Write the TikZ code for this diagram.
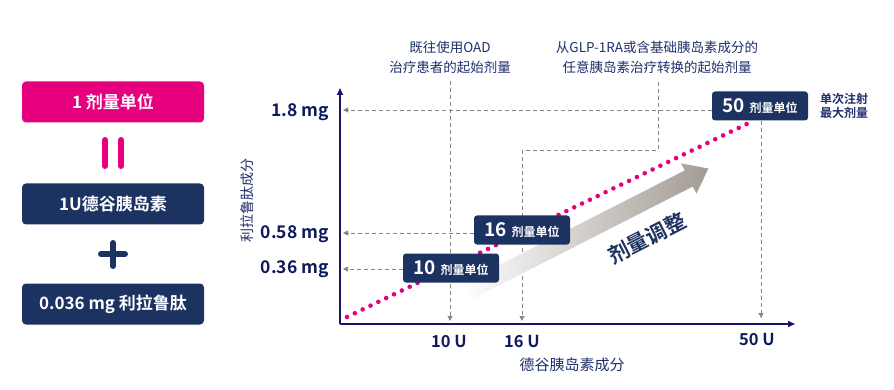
\documentclass[tikz,border=0pt]{standalone}
\usepackage{fontspec}
\setmainfont{Noto Sans CJK SC}[BoldFont={Noto Sans CJK SC Bold}]
\usetikzlibrary{arrows.meta}
\definecolor{pinkc}{HTML}{E6007E}
\definecolor{navybox}{HTML}{1C3260}
\definecolor{axisnavy}{HTML}{15166B}
\definecolor{labnavy}{HTML}{0F1A5E}
\definecolor{txtnavy}{HTML}{1F2F6B}
\definecolor{dashgray}{HTML}{8E847C}
\definecolor{arrgray}{HTML}{A39B94}
\tikzset{
  leftbox/.style={rounded corners=4pt, minimum width=182pt, minimum height=41pt, text=white, font=\bfseries\fontsize{17}{20}\selectfont, inner sep=0pt},
  dosebox/.style={fill=navybox, rounded corners=3pt, minimum width=96pt, minimum height=29pt, text=white, inner sep=0pt},
  axisline/.style={draw=axisnavy, line width=1.6pt, -{Triangle[length=7pt,width=6pt]}},
  dashl/.style={draw=dashgray, line width=0.9pt, dash pattern=on 4pt off 3pt, -{Triangle[length=5pt,width=5pt]}},
  dashn/.style={draw=dashgray, line width=0.9pt, dash pattern=on 4pt off 3pt},
  ylab/.style={anchor=east, text=labnavy, font=\bfseries\fontsize{17.5}{20}\selectfont, inner sep=0pt},
  xlab/.style={text=labnavy, font=\bfseries\fontsize{16.5}{19}\selectfont, inner sep=0pt},
  toptext/.style={text=txtnavy, font=\fontsize{13.5}{20}\selectfont, align=center, inner sep=0pt},
}
\newcommand{\dosetext}[1]{{\bfseries\fontsize{19}{20}\selectfont #1}\hspace{5pt}{\bfseries\fontsize{12}{14}\selectfont 剂量单位}}
\begin{document}
\begin{tikzpicture}[x=1pt,y=-1pt]
\useasboundingbox (0,0) rectangle (894,390);
% left column
\node[leftbox, fill=pinkc] (u1) at (113,102) {1 剂量单位};
\draw[pinkc, line width=6pt, line cap=round] (105,140) -- (105,166) (121,140) -- (121,166);
\node[leftbox, fill=navybox] (deg) at (113,204) {1U德谷胰岛素};
\draw[navybox, line width=6pt, line cap=round] (101,254) -- (125,254) (113,243) -- (113,266);
\node[leftbox, fill=navybox] (lira) at (113,304) {0.036 mg 利拉鲁肽};
% axes
\coordinate (O) at (340,324);
\coordinate (ytop) at (340,88);
\coordinate (xend) at (795,324);
\draw[axisline] (O) -- (ytop);
\draw[axisline] (O) -- (xend);
% axis labels
\node[ylab] (l18) at (329,112) {1.8 mg};
\node[ylab] (l58) at (329,234) {0.58 mg};
\node[ylab] (l36) at (329,269) {0.36 mg};
\node[xlab] (x10) at (449,342) {10 U};
\node[xlab] (x16) at (522,342) {16 U};
\node[xlab] (x50) at (757,340) {50 U};
\node[text=txtnavy, font=\fontsize{15}{18}\selectfont, inner sep=0pt] (xt) at (572,365) {德谷胰岛素成分};
\node[text=txtnavy, font=\fontsize{14}{16}\selectfont, inner sep=0pt, rotate=90] (yt) at (247,200) {利拉鲁肽成分};
% top texts
\node[toptext] (t1) at (450,57) {既往使用OAD\\治疗患者的起始剂量};
\node[toptext] (t2) at (657,57) {从GLP-1RA或含基础胰岛素成分的\\任意胰岛素治疗转换的起始剂量};
\node[text=txtnavy, font=\bfseries\fontsize{12}{14}\selectfont, align=left, inner sep=0pt] (maxd) at (844,106) {单次注射\\最大剂量};
% dashed guides
\coordinate (a18s) at (712,110); \coordinate (a18e) at (343,110);
\coordinate (a10s) at (450,81);  \coordinate (a10e) at (450,321);
\coordinate (a16s) at (658,82);  \coordinate (a16m) at (658,150); \coordinate (a16n) at (522,150); \coordinate (a16e) at (522,321);
\coordinate (a50s) at (761,121); \coordinate (a50e) at (761,318);
\coordinate (a58s) at (474,233); \coordinate (a58e) at (343,233);
\coordinate (a36s) at (403,269); \coordinate (a36e) at (343,269);
\draw[dashl] (a18s) -- (a18e);
\draw[dashl] (a10s) -- (a10e);
\draw[dashn] (a16s) -- (a16m) -- (a16n);
\draw[dashl] (a16n) -- (a16e);
\draw[dashl] (a50s) -- (a50e);
\draw[dashl] (a58s) -- (a58e);
\draw[dashl] (a36s) -- (a36e);
% gradient arrow
\begin{scope}[shift={(466,292)}, rotate=27]
\shade[left color=white, right color=arrgray]
  (0,-9) -- (250,-9) -- (250,-17) -- (272,0) -- (250,17) -- (250,9) -- (0,9) -- cycle;
\end{scope}
\node[text=navybox, font=\bfseries\fontsize{21}{24}\selectfont, rotate=27, inner sep=0pt] (adj) at (647,238) {剂量调整};
% dotted line
\coordinate (p0) at (347,317);
\coordinate (p1) at (753,121);
\draw[pinkc, line width=4.6pt, line cap=round, dash pattern=on 0pt off 8.7pt] (p0) -- (p1);
% dose boxes
\node[dosebox] (b10) at (451,268) {\dosetext{10}};
\node[dosebox] (b16) at (522,230) {\dosetext{16}};
\node[dosebox] (b50) at (760,106) {\dosetext{50}};
\end{tikzpicture}
\end{document}
